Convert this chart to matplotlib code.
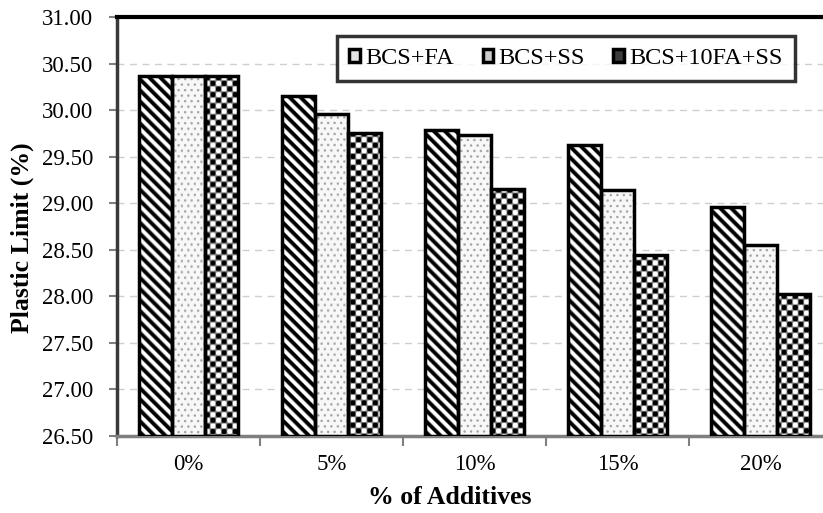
import numpy as np
import matplotlib
matplotlib.use("Agg")
import matplotlib.pyplot as plt
from matplotlib.patches import Patch
from matplotlib.ticker import FormatStrFormatter, FixedLocator

categories = ["0%", "5%", "10%", "15%", "20%"]
series_names = ["BCS+FA", "BCS+SS", "BCS+10FA+SS"]
bcs_fa = [30.37, 30.15, 29.79, 29.63, 28.96]
bcs_ss = [30.37, 29.96, 29.73, 29.14, 28.55]
bcs_fa_ss = [30.37, 29.75, 29.15, 28.44, 28.02]
y_ticks = [26.5, 27.0, 27.5, 28.0, 28.5, 29.0, 29.5, 30.0, 30.5, 31.0]

plt.rcParams['font.family'] = ['Liberation Serif', 'DejaVu Serif']

W, H = 823, 513
fig = plt.figure(figsize=(W / 100, H / 100), dpi=100)
ax_left, ax_right, ax_top, ax_bot = 117, 832, 17, 436
ax = fig.add_axes([ax_left / W, 1 - ax_bot / H, (ax_right - ax_left) / W, (ax_bot - ax_top) / H])

x = np.arange(len(categories))
bw = 0.229
ax.set_xlim(-0.5, len(categories) - 0.5)
ax.set_ylim(y_ticks[0], y_ticks[-1])


def tex_stripes(X, Y):
    P = 11.0
    v = np.cos(2 * np.pi * (X - Y) / P)
    return np.clip(0.5 + 0.9 * v, 0, 1)


def tex_dots(X, Y):
    Py, Px = 5.5, 6.5
    row = np.floor(Y / Py)
    xs = X + (row % 2) * Px / 2
    dx = (xs % Px) - Px / 2
    dy = (Y % Py) - Py / 2
    r = np.sqrt(dx ** 2 + dy ** 2)
    base = 0.97
    dot = np.clip(1.7 - r, 0, 1)
    return base - dot * 0.33


def tex_checker(X, Y):
    c = 5.6
    v = np.cos(np.pi * X / c) * np.cos(np.pi * Y / c)
    return np.clip(0.5 + 1.2 * v, 0, 1)


textures = [tex_stripes, tex_dots, tex_checker]
series = [bcs_fa, bcs_ss, bcs_fa_ss]
offsets = [-bw, 0, bw]

fig.canvas.draw()
for s_vals, off, tex in zip(series, offsets, textures):
    bars = ax.bar(x + off, np.array(s_vals) - y_ticks[0], width=bw, bottom=y_ticks[0],
                  facecolor='white', edgecolor='none', zorder=3)
    for b in bars:
        x0, y0 = b.get_x(), b.get_y()
        x1, y1 = x0 + b.get_width(), y0 + b.get_height()
        (X0, Y0), (X1, Y1) = ax.transData.transform([(x0, y0), (x1, y1)])
        nx = max(int(round(X1 - X0)), 1)
        ny = max(int(round(Y1 - Y0)), 1)
        px = X0 + np.arange(nx) + 0.5
        py_down = (H - Y1) + np.arange(ny) + 0.5
        XX, YY = np.meshgrid(px, py_down)
        arr = tex(XX, YY)
        ax.imshow(arr, extent=(x0, x1, y0, y1), origin='upper', cmap='gray', vmin=0, vmax=1,
                  aspect='auto', interpolation='bilinear', zorder=3.5)
    ax.bar(x + off, np.array(s_vals) - y_ticks[0], width=bw, bottom=y_ticks[0],
           fill=False, edgecolor='black', linewidth=2.5, zorder=4)

ax.set_xlim(-0.5, len(categories) - 0.5)
ax.set_ylim(y_ticks[0], y_ticks[-1])

ax.set_yticks(y_ticks)
ax.yaxis.set_major_formatter(FormatStrFormatter('%.2f'))
ax.set_xticks(x)
ax.set_xticklabels(categories)
ax.xaxis.set_minor_locator(FixedLocator(np.arange(-0.5, len(categories), 1.0)))
ax.tick_params(axis='x', which='major', length=0, pad=13, labelsize=16.5)
ax.tick_params(axis='x', which='minor', length=7, width=1.5, color='#808080', direction='out')
ax.tick_params(axis='y', which='major', length=6, width=1.5, color='#808080', direction='out',
               labelsize=16.5, pad=11)

ax.grid(axis='y', linestyle=(0, (5, 4)), color='#cfcfcf', linewidth=1.0, zorder=0)
ax.set_axisbelow(True)

ax.spines['left'].set_color('#3a3a3a')
ax.spines['left'].set_linewidth(2.5)
ax.spines['bottom'].set_color('#7f7f7f')
ax.spines['bottom'].set_linewidth(2.5)
ax.spines['top'].set_color('black')
ax.spines['top'].set_linewidth(3)
ax.spines['right'].set_visible(False)

ax.set_ylabel('Plastic Limit (%)', fontsize=18.5, fontweight='bold')
ax.set_xlabel('% of Additives', fontsize=18.5, fontweight='bold')
ax.yaxis.set_label_coords((22 - ax_left) / (ax_right - ax_left), (ax_bot - 238) / (ax_bot - ax_top))
ax.xaxis.set_label_coords((450 - ax_left) / (ax_right - ax_left), (ax_bot - 497) / (ax_bot - ax_top))
ax.xaxis.label.set_verticalalignment('center')
ax.yaxis.label.set_verticalalignment('center')

handles = [Patch(facecolor='#e6e6e6', edgecolor='black', linewidth=2.5),
           Patch(facecolor='#cccccc', edgecolor='black', linewidth=2.5),
           Patch(facecolor='#3c3c3c', edgecolor='black', linewidth=2.5)]
leg = ax.legend(handles, series_names, ncol=3, loc='center',
                bbox_to_anchor=((566 - ax_left) / (ax_right - ax_left), (ax_bot - 58.5) / (ax_bot - ax_top)),
                fontsize=17.5, frameon=True, fancybox=False, handlelength=0.45,
                handleheight=0.45, handletextpad=0.2, columnspacing=1.18,
                borderpad=0.5, borderaxespad=0)
leg.get_frame().set_edgecolor('black')
leg.get_frame().set_linewidth(2.5)
leg.set_zorder(10)

fig.savefig('out.png', dpi=100)
